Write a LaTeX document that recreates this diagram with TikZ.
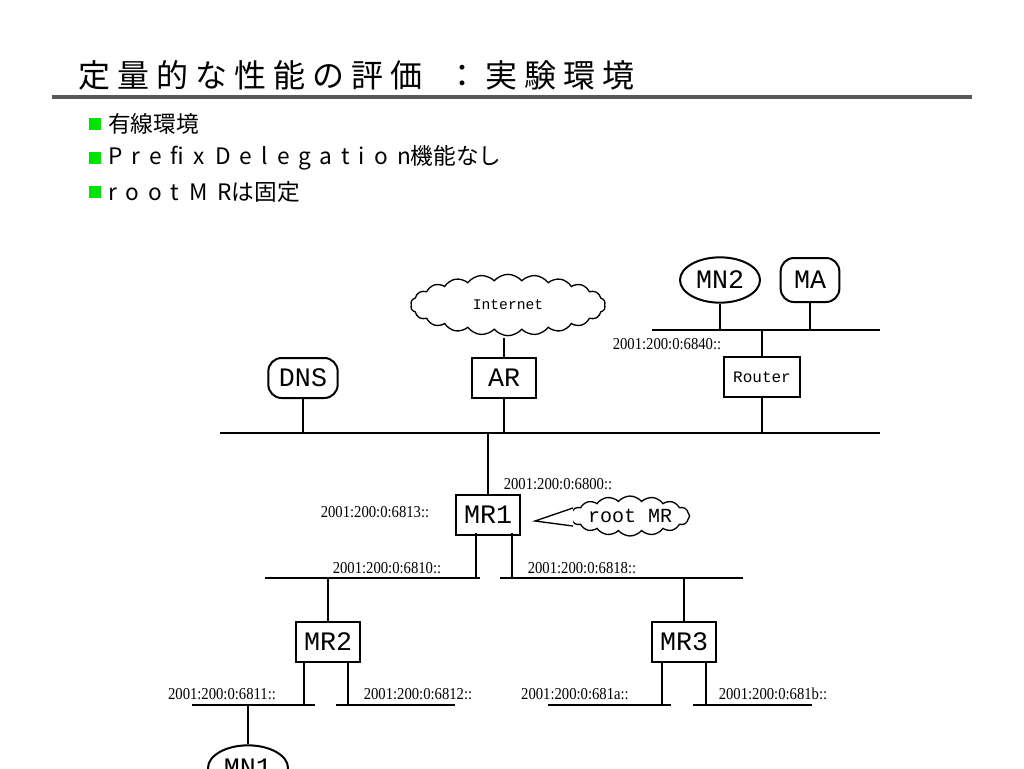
\documentclass[tikz,border=0pt]{standalone}
\usepackage{fontspec}
\setmainfont{Liberation Serif}[FakeStretch=0.88]
\newfontfamily\jp{Noto Sans CJK JP}
\newfontfamily\jpt{Noto Sans CJK JP}[LetterSpace=22]
\newfontfamily\jpl{Noto Sans CJK JP}[LetterSpace=40]
\newfontfamily\mono{Liberation Mono}
\usetikzlibrary{shapes.geometric,shapes.symbols}
\begin{document}
\begin{tikzpicture}[x=0.75pt,y=-0.75pt,line width=1.5pt,
  box/.style={draw,rectangle,minimum width=48pt,minimum height=30pt,inner sep=0pt,font=\mono\fontsize{20}{20}\selectfont},
  rbox/.style={box,rounded corners=10pt},
  ell/.style={draw,ellipse,minimum width=60pt,minimum height=34pt,inner sep=0pt,font=\mono\fontsize{20}{20}\selectfont},
  cl/.style={draw,cloud,cloud puffs=22,cloud puff arc=100,aspect=3.2,inner sep=0pt,line width=1pt},
  addr/.style={font=\fontsize{12.5}{12}\selectfont,inner sep=0pt},
  bul/.style={fill=green!90!black,minimum size=9pt,inner sep=0pt}]
\useasboundingbox (0,0) rectangle (1024,768);
\node[anchor=west,font=\jpt\fontsize{24}{24}\selectfont] (title) at (73,75) {定量的な性能の評価\hspace{18pt}：実験環境};
\draw[gray!70!black,line width=3pt] (52,97) -- (972,97);
\foreach \y/\t/\n in {124/{{\jp 有線環境}}/b1,158/{Prefix\hspace{8pt}Delegation{\jp 機能なし}}/b2,192/{root\hspace{8pt}MR{\jp は固定}}/b3}{
  \node[bul] (\n s) at (95,\y) {};
  \node[anchor=west,font=\jpl\fontsize{17}{17}\selectfont,inner sep=0pt] (\n) at (107,\y) {\t};
}
% top bus
\coordinate (b0l) at (220,433); \coordinate (b0r) at (880,433);
\draw (b0l) -- (b0r);
\node[rbox,minimum width=52pt] (dns) at (303,378) {DNS};
\draw (dns) -- (303,433);
\node[cl,minimum width=146pt,minimum height=46pt] (inet) at (508,305) {\mono\fontsize{11}{11}\selectfont Internet};
\node[box] (ar) at (504,378) {AR};
\draw (504,338) -- (ar); \draw (ar) -- (504,433);
\node[box,minimum width=57pt,font=\mono\fontsize{12}{12}\selectfont] (router) at (762,377) {Router};
\draw (router) -- (762,433);
\draw (652,330) -- (880,330);
\draw (router) -- (762,330);
\node[ell] (mn2) at (720,280) {MN2};
\node[rbox,minimum width=44pt,minimum height=33pt] (ma) at (810,280) {MA};
\draw (mn2) -- (720,330); \draw (ma) -- (810,330);
\node[addr] (a6840) at (667,344) {2001:200:0:6840::};
% MR1
\node[box] (mr1) at (488,515) {MR1};
\draw (mr1.north) -- (488,433);
\node[addr] (a6800) at (558,484) {2001:200:0:6800::};
\node[addr] (a6813) at (375,512) {2001:200:0:6813::};
\node[cl,minimum width=88pt,minimum height=26pt,cloud puffs=16,aspect=4] (root) at (630,516) {\mono\fontsize{15}{15}\selectfont root MR};
\draw[line width=1pt,fill=white] (573,508) -- (535,521) -- (573,526);
\draw (476,533) -- (476,578); \draw (512,533) -- (512,578);
\draw (265,578) -- (480,578); \draw (500,578) -- (743,578);
\node[addr] (a6810) at (387,568) {2001:200:0:6810::};
\node[addr] (a6818) at (582,568) {2001:200:0:6818::};
% MR2, MR3
\node[box] (mr2) at (328,642) {MR2};
\node[box] (mr3) at (684,642) {MR3};
\draw (mr2) -- (328,578); \draw (mr3) -- (684,578);
\draw (304,662) -- (304,705); \draw (348,662) -- (348,705);
\draw (662,662) -- (662,705); \draw (706,662) -- (706,705);
\draw (192,705) -- (315,705); \draw (336,705) -- (455,705);
\draw (548,705) -- (671,705); \draw (693,705) -- (812,705);
\node[addr] (a6811) at (222,694) {2001:200:0:6811::};
\node[addr] (a6812) at (418,694) {2001:200:0:6812::};
\node[addr] (a681a) at (575,694) {2001:200:0:681a::};
\node[addr] (a681b) at (773,694) {2001:200:0:681b::};
\node[ell] (mn1) at (248,768) {MN1};
\draw (mn1) -- (248,705);
\end{tikzpicture}
\end{document}
